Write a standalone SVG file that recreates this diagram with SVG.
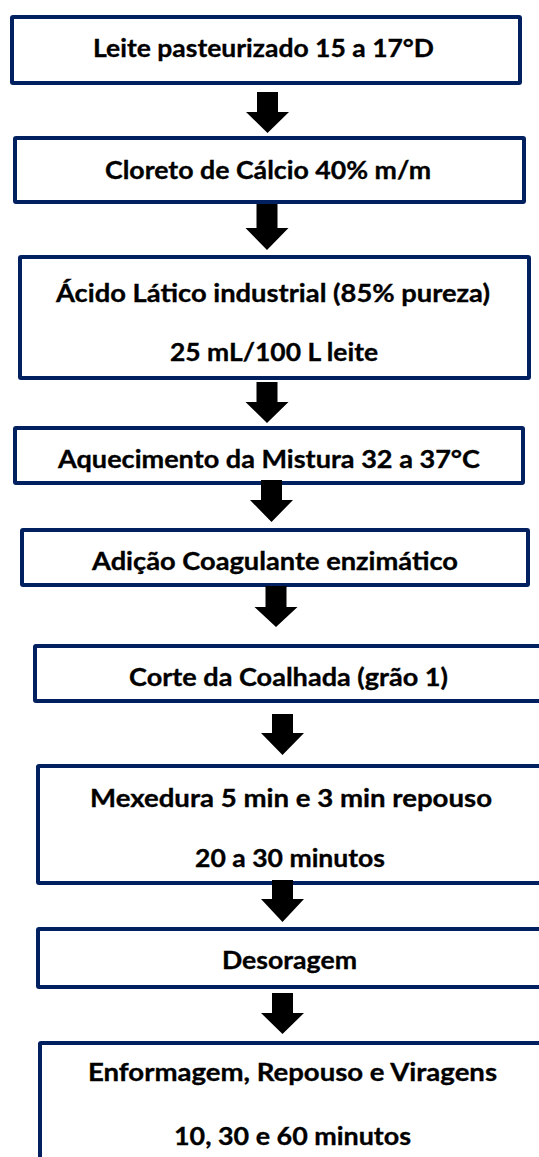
<svg xmlns="http://www.w3.org/2000/svg" width="539" height="1157" viewBox="0 0 539 1157">
<style>
.box{fill:#ffffff;stroke:#002060;stroke-width:4;stroke-linejoin:round}
.t{font-family:Lato,"Open Sans","Liberation Sans",sans-serif;font-weight:700;font-size:25.5px;fill:#000000;stroke:#000000;stroke-width:0.35}
.arr{fill:#000000}
</style>
<rect width="539" height="1157" fill="#ffffff"/>
<g id="n1"><rect class="box" x="12" y="17" width="508" height="66" rx="1"/>
<text class="t" x="93" y="57" textLength="341" lengthAdjust="spacingAndGlyphs">Leite pasteurizado 15 a 17°D</text></g>
<g id="n2"><rect class="box" x="15" y="138" width="509" height="64" rx="1"/>
<text class="t" x="105" y="179" textLength="326" lengthAdjust="spacingAndGlyphs">Cloreto de Cálcio 40% m/m</text></g>
<g id="n3"><rect class="box" x="20" y="257" width="509" height="121" rx="1"/>
<text class="t" x="56" y="302" textLength="434" lengthAdjust="spacingAndGlyphs">Ácido Lático industrial (85% pureza)</text>
<text class="t" x="170" y="361" textLength="208" lengthAdjust="spacingAndGlyphs">25 mL/100 L leite</text></g>
<g id="n4"><rect class="box" x="15" y="428" width="508" height="55" rx="1"/>
<text class="t" x="58" y="468" textLength="422" lengthAdjust="spacingAndGlyphs">Aquecimento da Mistura 32 a 37°C</text></g>
<g id="n5"><rect class="box" x="22" y="530" width="506" height="55" rx="1"/>
<text class="t" x="92" y="570" textLength="366" lengthAdjust="spacingAndGlyphs">Adição Coagulante enzimático</text></g>
<g id="n6"><rect class="box" x="35" y="646" width="540" height="55" rx="1"/>
<text class="t" x="129" y="686" textLength="319" lengthAdjust="spacingAndGlyphs">Corte da Coalhada (grão 1)</text></g>
<g id="n7"><rect class="box" x="38" y="766" width="540" height="117" rx="1"/>
<text class="t" x="90" y="807" textLength="402" lengthAdjust="spacingAndGlyphs">Mexedura 5 min e 3 min repouso</text>
<text class="t" x="195" y="867" textLength="190" lengthAdjust="spacingAndGlyphs">20 a 30 minutos</text></g>
<g id="n8"><rect class="box" x="38" y="929" width="540" height="58" rx="1"/>
<text class="t" x="222" y="969" textLength="135" lengthAdjust="spacingAndGlyphs">Desoragem</text></g>
<g id="n9"><rect class="box" x="40" y="1043" width="540" height="200" rx="1"/>
<text class="t" x="88" y="1081" textLength="409" lengthAdjust="spacingAndGlyphs">Enformagem, Repouso e Viragens</text>
<text class="t" x="174" y="1145" textLength="237" lengthAdjust="spacingAndGlyphs">10, 30 e 60 minutos</text></g>
<g id="connectors">
<path class="arr" d="M257,92 H278 V112 H289 L267.5,133 L246,112 H257 Z"/>
<path class="arr" d="M256.5,204 H277.5 V228 H288.5 L267,250 L245.5,228 H256.5 Z"/>
<path class="arr" d="M256.5,382 H277.5 V402 H288.5 L267,423 L245.5,402 H256.5 Z"/>
<path class="arr" d="M261,480 H282 V500 H293 L271.5,522 L250,500 H261 Z"/>
<path class="arr" d="M265.5,586 H286.5 V607 H297.5 L276,627 L254.5,607 H265.5 Z"/>
<path class="arr" d="M272,714 H293 V733 H304 L282.5,755 L261,733 H272 Z"/>
<path class="arr" d="M272,880 H293 V899 H304 L282.5,922 L261,899 H272 Z"/>
<path class="arr" d="M272,993 H293 V1013 H304 L282.5,1034 L261,1013 H272 Z"/>
</g>
</svg>
